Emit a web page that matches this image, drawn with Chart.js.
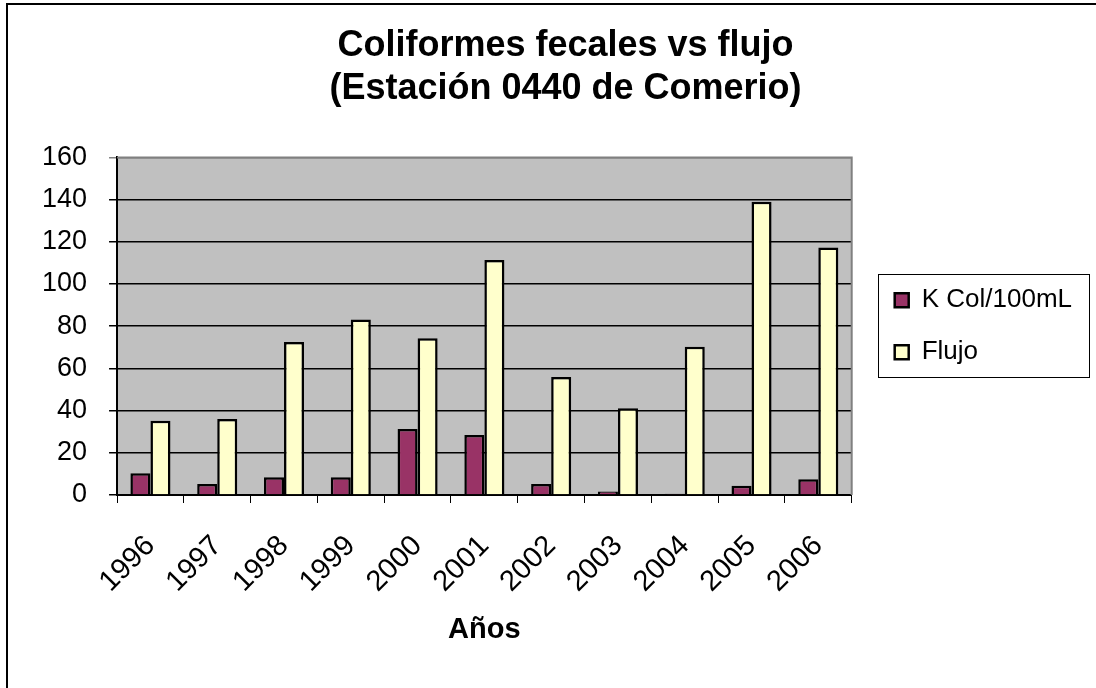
<!DOCTYPE html>
<html>
<head>
<meta charset="utf-8">
<script src="https://cdn.jsdelivr.net/npm/chart.js@4.4.1/dist/chart.umd.min.js"></script>
<style>
  html, body { margin: 0; padding: 0; background: #fff; }
  #wrap { position: relative; width: 1096px; height: 688px; overflow: hidden; }
  #frame { position: absolute; left: 6px; top: 3px; width: 1200px; height: 800px;
           border-top: 2px solid #000; border-left: 2px solid #000; pointer-events: none; }
  canvas { position: absolute; left: 0; top: 0; }
</style>
</head>
<body>
<div id="wrap">
  <canvas id="c" width="1096" height="688"></canvas>
  <div id="frame"></div>
</div>
<script>
const titleLines = ['Coliformes fecales vs flujo', '(Estación 0440 de Comerio)'];
const years = ['1996','1997','1998','1999','2000','2001','2002','2003','2004','2005','2006'];
const kColLabel = 'K Col/100mL';
const kCol = [10.3, 5.2, 8.4, 8.4, 31.3, 28.4, 5.2, 1.7, 0.6, 4.4, 7.5];
const flujoLabel = 'Flujo';
const flujo = [35.2, 36, 72.5, 83.2, 74.3, 111.4, 55.9, 41.1, 70.3, 139, 117.3];
const xTitle = 'Años';
const yMin = 0, yMax = 160, yStep = 20;

const FONT = "'Liberation Sans', Arial, sans-serif";
Chart.defaults.font.family = FONT;
Chart.defaults.color = '#000';

const plotBg = {
  id: 'plotBg',
  beforeDraw(chart) {
    const {ctx, chartArea: a} = chart;
    ctx.save();
    ctx.fillStyle = '#C0C0C0';
    ctx.fillRect(a.left, a.top, a.right - a.left, a.bottom - a.top);
    ctx.restore();
  },
  afterDatasetsDraw(chart) {
    const {ctx, chartArea: a} = chart;
    ctx.save();
    ctx.strokeStyle = '#808080';
    ctx.lineWidth = 2;
    ctx.beginPath();
    ctx.moveTo(a.left, a.top);
    ctx.lineTo(a.right, a.top);
    ctx.lineTo(a.right, a.bottom);
    ctx.stroke();
    ctx.restore();
  }
};

const boxShift = {
  id: 'boxShift',
  afterLayout(chart) {
    const lg = chart.legend;
    lg.left += 17; lg.right += 17;
    const tb = chart.titleBlock;
    tb.left += 23; tb.right += 23;
  },
  afterDraw(chart) {
    const lg = chart.legend;
    const {ctx} = chart;
    const cy = (lg.top + lg.bottom) / 2;
    ctx.save();
    ctx.strokeStyle = '#000';
    ctx.lineWidth = 1;
    ctx.strokeRect(Math.round(lg.left + 9) + 0.5, Math.round(cy - 52) + 0.5, 211, 103);
    ctx.restore();
  }
};

new Chart(document.getElementById('c'), {
  type: 'bar',
  data: {
    labels: years,
    datasets: [
      { label: kColLabel, data: kCol, backgroundColor: '#993366', borderColor: '#000', borderWidth: 2.5,
        categoryPercentage: 0.6, barPercentage: 1.0 },
      { label: flujoLabel, data: flujo, backgroundColor: '#FFFFCC', borderColor: '#000', borderWidth: 2.5,
        categoryPercentage: 0.6, barPercentage: 1.0 }
    ]
  },
  options: {
    responsive: false,
    animation: false,
    devicePixelRatio: 1,
    layout: { padding: { top: 0, left: 20, right: 31, bottom: 37 } },
    plugins: {
      title: {
        display: true,
        text: titleLines,
        font: { size: 36, weight: 'bold', family: FONT },
        color: '#000',
        padding: { top: 24, bottom: 47 }
      },
      legend: {
        position: 'right',
        fullSize: false,
        labels: {
          font: { size: 26, family: FONT },
          color: '#000',
          boxWidth: 14,
          boxHeight: 14,
          padding: 26
        }
      },
      tooltip: { enabled: false }
    },
    scales: {
      x: {
        afterFit: (s) => { s.height = 156; },
        grid: { drawOnChartArea: false, drawTicks: true, tickLength: 8, color: '#000', offset: true },
        border: { color: '#000', width: 2 },
        ticks: { font: { size: 29, family: FONT }, color: '#000', maxRotation: 45, minRotation: 45, padding: 26 },
        title: { display: true, text: xTitle, font: { size: 29, weight: 'bold', family: FONT }, color: '#000', padding: { top: 16 } }
      },
      y: {
        min: yMin, max: yMax,
        grid: { color: (c) => (c.tick && c.tick.value === yMax) ? '#808080' : '#000', tickLength: 8, lineWidth: 1.5 },
        border: { color: '#000', width: 2 },
        ticks: { stepSize: yStep, font: { size: 27, family: FONT }, color: '#000', padding: 22 }
      }
    }
  },
  plugins: [plotBg, boxShift]
});
</script>
</body>
</html>
